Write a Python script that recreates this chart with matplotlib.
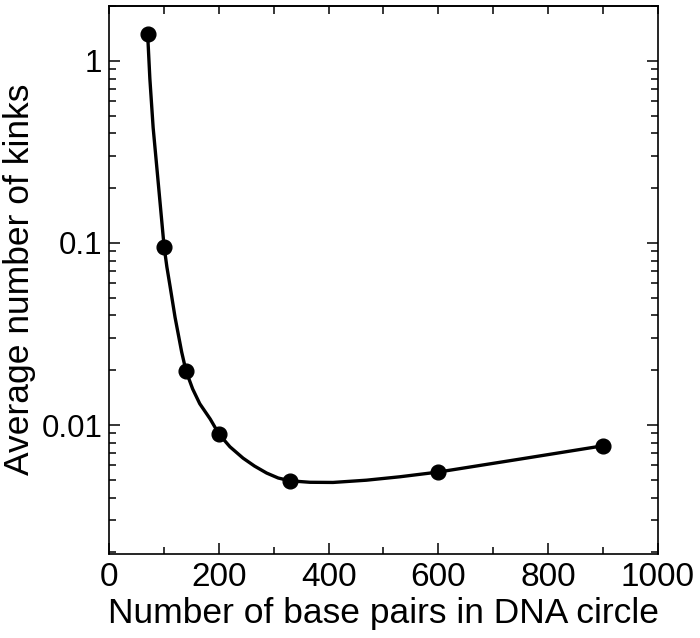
import numpy as np
import matplotlib
matplotlib.use('Agg')
import matplotlib.pyplot as plt
from matplotlib.ticker import LogLocator, NullFormatter, MultipleLocator

# measured points (base pairs vs average number of kinks)
bp = [70, 100, 140, 200, 330, 600, 900]
kinks = [1.40, 0.0954, 0.0198, 0.00893, 0.00494, 0.00552, 0.00769]

# smooth curve through the points
curve_bp = [70, 74, 80, 88, 95.5, 100, 105, 111, 120, 132, 140, 152, 165, 184, 200,
            220, 244, 265, 287, 308, 330, 366, 408, 469, 530, 600, 750, 900]
curve_kinks = [1.40, 0.80, 0.43, 0.236, 0.134, 0.0954, 0.074, 0.0575, 0.0390, 0.0252,
               0.0198, 0.0158, 0.0131, 0.0108, 0.00893, 0.0076, 0.00658, 0.00595,
               0.00545, 0.00512, 0.00494, 0.00485, 0.00484, 0.00498, 0.0052, 0.00552,
               0.00651, 0.00769]

xticks = [0, 200, 400, 600, 800, 1000]
yticks = [0.01, 0.1, 1]
ytick_labels = ['0.01', '0.1', '1']

plt.rcParams['font.family'] = ['Liberation Sans', 'DejaVu Sans']

fig = plt.figure(figsize=(7, 6.38), dpi=100)
ax = fig.add_axes([0.1561, 0.1324, 0.7834, 0.8587])

ax.plot(curve_bp, curve_kinks, color='black', lw=2.4, solid_capstyle='round',
        solid_joinstyle='round')
ax.plot(bp, kinks, 'o', color='black', ms=10.6)

ax.set_yscale('log')
ax.set_xlim(0, 1000)
ax.set_ylim(0.00197, 2.01)

ax.set_xticks(xticks)
ax.set_xticklabels([str(t) for t in xticks])
ax.xaxis.set_minor_locator(MultipleLocator(100))
ax.set_yticks(yticks)
ax.set_yticklabels(ytick_labels)
ax.yaxis.set_minor_locator(LogLocator(base=10, subs=np.arange(2, 10)))
ax.yaxis.set_minor_formatter(NullFormatter())

ax.tick_params(which='both', direction='in', width=1.1,
               top=False, right=True, pad=6)
ax.tick_params(axis='x', labelsize=24)
ax.tick_params(axis='y', labelsize=22.5, pad=5)
ax.tick_params(which='major', length=8)
ax.tick_params(which='minor', length=5)

# top axis: all ticks the same length, no labels
top = ax.secondary_xaxis('top')
top.set_xticks(np.arange(0, 1001, 100))
top.tick_params(direction='in', length=6, width=1.1, labeltop=False)
top.spines['top'].set_linewidth(1.2)

for s in ax.spines.values():
    s.set_linewidth(1.2)

ax.set_xlabel('Number of base pairs in DNA circle', fontsize=25.5, labelpad=3)
ax.set_ylabel('Average number of kinks', fontsize=25.5)
ax.yaxis.set_label_coords(-0.133, 0.5)

fig.savefig('out.png', dpi=100)
